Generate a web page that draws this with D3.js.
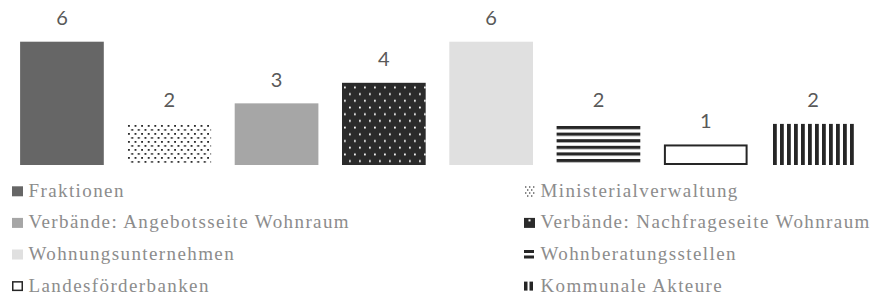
<!DOCTYPE html>
<html><head><meta charset="utf-8">
<script src="https://cdn.jsdelivr.net/npm/d3@7"></script>
<style>
html,body{margin:0;padding:0;background:#fff;}
svg{display:block;}
</style></head>
<body>
<svg id="chart" width="877" height="297"></svg>
<script>
const categories = ["Fraktionen","Ministerialverwaltung","Verbände: Angebotsseite Wohnraum","Verbände: Nachfrageseite Wohnraum","Wohnungsunternehmen","Wohnberatungsstellen","Landesförderbanken","Kommunale Akteure"];
const values = [6,2,3,4,6,2,1,2];
const fills = ["#666666","url(#pDots)","#a6a6a6","url(#pDarkDots)","#e0e0e0","url(#pHoriz)","#ffffff","url(#pVert)"];
const strokes = [null,null,null,null,null,null,"#262626",null];

const svg = d3.select("#chart");
const defs = svg.append("defs");

// dotted on white
let p = defs.append("pattern").attr("id","pDots").attr("patternUnits","userSpaceOnUse").attr("width",6.6).attr("height",8).attr("patternTransform","translate(127,124)");
p.append("rect").attr("width",6.6).attr("height",8).attr("fill","#fff");
p.append("rect").attr("x",1).attr("y",1).attr("width",1.8).attr("height",1.8).attr("fill","#222");
p.append("rect").attr("x",4.3).attr("y",5).attr("width",1.8).attr("height",1.8).attr("fill","#222");
// white dots on dark
p = defs.append("pattern").attr("id","pDarkDots").attr("patternUnits","userSpaceOnUse").attr("width",10).attr("height",13.4).attr("patternTransform","translate(341,84)");
p.append("rect").attr("width",10).attr("height",13.4).attr("fill","#2b2b2b");
p.append("rect").attr("x",3).attr("y",2.5).attr("width",1.8).attr("height",1.8).attr("fill","#fff");
p.append("rect").attr("x",8).attr("y",9.2).attr("width",1.8).attr("height",1.8).attr("fill","#fff");
// horizontal lines
p = defs.append("pattern").attr("id","pHoriz").attr("patternUnits","userSpaceOnUse").attr("width",8).attr("height",6.6).attr("patternTransform","translate(0,126)");
p.append("rect").attr("width",8).attr("height",6.6).attr("fill","#fff");
p.append("rect").attr("y",0).attr("width",8).attr("height",3.2).attr("fill","#262626");
// vertical lines
p = defs.append("pattern").attr("id","pVert").attr("patternUnits","userSpaceOnUse").attr("width",7).attr("height",8).attr("patternTransform","translate(773,0)");
p.append("rect").attr("width",7).attr("height",8).attr("fill","#fff");
p.append("rect").attr("x",0).attr("width",3.8).attr("height",8).attr("fill","#262626");

const x = d3.scaleBand().domain(categories).range([8.3,866.7]).paddingInner(0.22).paddingOuter(0.11);
const y = d3.scaleLinear().domain([0,6]).range([165,41.7]);

const g = svg.append("g");
g.selectAll("rect.bar").data(categories).join("rect").attr("class","bar")
  .attr("x",(d,i)=>x(d)+(strokes[i]?1:0))
  .attr("width",(d,i)=>x.bandwidth()-(strokes[i]?2:0))
  .attr("y",(d,i)=>y(values[i])+(strokes[i]?1:0))
  .attr("height",(d,i)=>y(0)-y(values[i])-(strokes[i]?2:0))
  .attr("fill",(d,i)=>fills[i])
  .attr("stroke",(d,i)=>strokes[i]||"none")
  .attr("stroke-width",2);

g.selectAll("text.val").data(categories).join("text").attr("class","val")
  .attr("x",d=>x(d)+x.bandwidth()/2)
  .attr("y",(d,i)=>y(values[i])-16.5)
  .attr("text-anchor","middle")
  .attr("font-family","Lato, 'Open Sans', sans-serif")
  .attr("font-size",20)
  .attr("fill","#595959")
  .text((d,i)=>values[i]);

// legend
const legX = [12, 524];
const legY0 = 191.3, legDy = 31.6;
const leg = svg.append("g");
categories.forEach((c,i)=>{
  const col = i%2, row = Math.floor(i/2);
  const lx = legX[col], ly = legY0 + row*legDy;
  const item = leg.append("g");
  const lfill = fills[i];
  if (i===5) {
    item.append("rect").attr("x",lx).attr("y",ly-4.5).attr("width",10).attr("height",3).attr("fill","#262626");
    item.append("rect").attr("x",lx).attr("y",ly+1).attr("width",10).attr("height",3).attr("fill","#262626");
  } else if (i===7) {
    item.append("rect").attr("x",lx).attr("y",ly-4.5).attr("width",3.5).attr("height",9).attr("fill","#262626");
    item.append("rect").attr("x",lx+5.5).attr("y",ly-4.5).attr("width",3.5).attr("height",9).attr("fill","#262626");
  } else if (i===1) {
    const pts=[[1,0],[5,0],[9,0],[3,3],[7,3],[1,6],[5,6],[9,6],[3,9],[7,9]];
    pts.forEach(q=>item.append("rect").attr("x",lx+q[0]).attr("y",ly-5+q[1]).attr("width",1.4).attr("height",1.4).attr("fill","#555"));
  } else if (i===3) {
    item.append("rect").attr("x",lx).attr("y",ly-5).attr("width",11).attr("height",10).attr("fill","#2b2b2b");
    item.append("rect").attr("x",lx+4.5).attr("y",ly-3.5).attr("width",2).attr("height",2).attr("fill","#fff");
  } else if (i===6) {
    item.append("rect").attr("x",lx+0.75).attr("y",ly-4.25).attr("width",9.5).attr("height",8.5).attr("fill","#fff").attr("stroke","#262626").attr("stroke-width",1.5);
  } else {
    item.append("rect").attr("x",lx).attr("y",ly-5).attr("width",11).attr("height",10).attr("fill",lfill);
  }
  item.append("text").attr("x",lx+16.5).attr("y",ly+5.4)
    .attr("font-family","'Liberation Serif', 'Times New Roman', serif")
    .attr("font-size",19)
    .attr("letter-spacing",1.4)
    .attr("fill","#8c8c8c")
    .text(c);
});
</script>
</body></html>
